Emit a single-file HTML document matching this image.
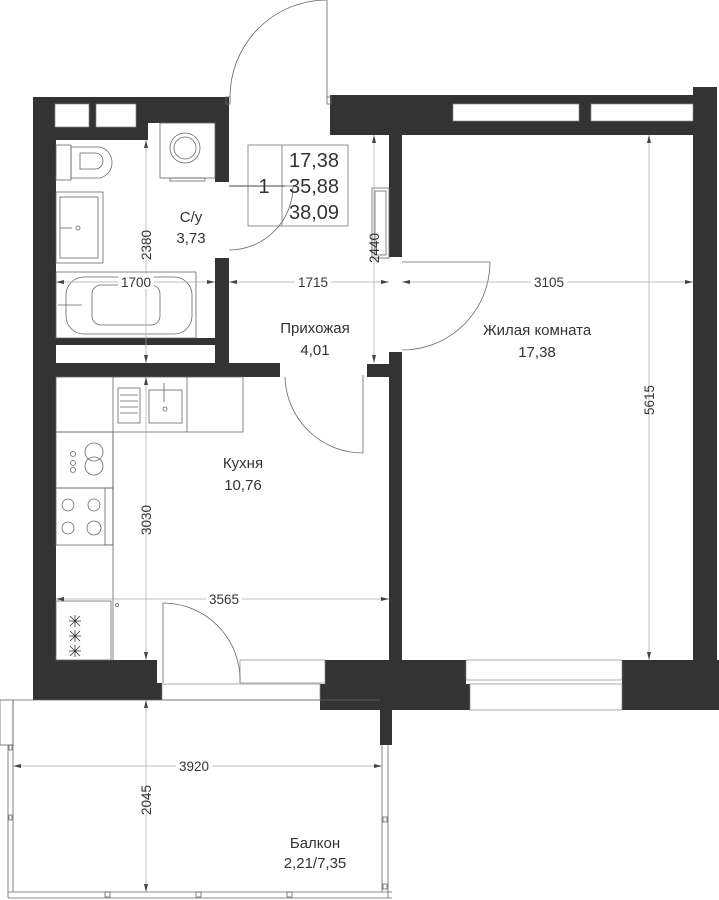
<!DOCTYPE html>
<html><head><meta charset="utf-8"><style>
html,body{margin:0;padding:0;background:#fff;}
svg{display:block;}
text{font-family:"Liberation Sans",sans-serif;fill:#333;}
</style></head><body>
<svg width="719" height="900" viewBox="0 0 719 900" xmlns="http://www.w3.org/2000/svg">
<g fill="#333">
<rect x="33" y="97" width="23" height="603"/>
<rect x="33" y="97" width="115" height="43"/>
<rect x="148" y="97" width="81" height="26"/>
<rect x="215" y="97" width="14" height="85"/>
<rect x="215" y="258" width="14" height="110"/>
<rect x="56" y="338" width="159" height="7"/>
<rect x="33" y="363" width="247" height="14"/>
<rect x="330" y="95" width="387" height="40"/>
<rect x="693" y="87" width="24" height="613"/>
<rect x="389" y="135" width="13" height="122"/>
<rect x="389" y="352" width="13" height="308"/>
<rect x="367" y="364" width="22" height="13"/>
<rect x="33" y="660" width="124" height="40"/>
<rect x="157" y="683" width="5" height="17"/>
<rect x="325" y="660" width="141" height="24"/>
<rect x="320" y="684" width="150" height="26"/>
<rect x="380" y="700" width="12" height="45"/>
<rect x="622" y="660" width="97" height="50"/>
</g>
<g fill="#fff" stroke="#888" stroke-width="0.7">
<rect x="55" y="104" width="34" height="23"/>
<rect x="96" y="104" width="40" height="23"/>
<rect x="453" y="104" width="126" height="17"/>
<rect x="591" y="104" width="102" height="17"/>
<rect x="240" y="660" width="85" height="23"/>
<rect x="466" y="660" width="156" height="20"/>
<rect x="470" y="684" width="152" height="26"/>
<rect x="162" y="684" width="158" height="16"/>
</g>
<g fill="none" stroke="#666" stroke-width="0.8">
<line x1="327" y1="0" x2="327" y2="97"/>
<path d="M327 0 A97 97 0 0 0 230 97"/>
<rect x="226" y="97" width="4" height="7"/>
<rect x="327" y="97" width="4" height="7"/>
<line x1="229" y1="186" x2="293" y2="186"/>
<path d="M293 186 A64 64 0 0 1 229 250"/>
<line x1="402" y1="262" x2="490" y2="262"/>
<path d="M490 262 A88 88 0 0 1 402 350"/>
<line x1="363" y1="375" x2="363" y2="453"/>
<path d="M285 377 A78 78 0 0 0 363 453"/>
<line x1="163" y1="603" x2="163" y2="683"/>
<path d="M163 603 A77 77 0 0 1 240 683"/>
<rect x="372" y="188" width="17" height="70"/>
<rect x="375" y="191" width="11" height="64"/>
<rect x="248" y="145" width="100" height="81" stroke="#777"/>
<line x1="282" y1="145" x2="282" y2="226" stroke="#777"/>
<line x1="229" y1="186" x2="285" y2="186" stroke="#333"/>
<rect x="56" y="145" width="15" height="35"/>
<path d="M71 147 H100 A16 16 0 0 1 100 178 H71 Z"/>
<path d="M80 153 H95 A8 8 0 0 1 95 169 H80 Z"/>
<rect x="160" y="123" width="55" height="55"/>
<circle cx="185" cy="148" r="15"/>
<circle cx="185" cy="148" r="11"/>
<rect x="170" y="178" width="35" height="3"/>
<rect x="56" y="192" width="47" height="71"/>
<rect x="60" y="197" width="38" height="61"/>
<line x1="60" y1="228" x2="72" y2="228"/>
<circle cx="78" cy="228" r="2"/>
<rect x="56" y="272" width="140" height="66"/>
<rect x="66" y="277" width="126" height="57" rx="18"/>
<rect x="92" y="285" width="68" height="40" rx="9"/>
<line x1="58" y1="305" x2="82" y2="305"/>
<rect x="56" y="377" width="187" height="55"/>
<line x1="113" y1="377" x2="113" y2="432"/>
<line x1="187" y1="377" x2="187" y2="432"/>
<rect x="118" y="388" width="22" height="35"/>
<line x1="120" y1="395" x2="138" y2="395"/>
<line x1="120" y1="401" x2="138" y2="401"/>
<line x1="120" y1="407" x2="138" y2="407"/>
<line x1="120" y1="413" x2="138" y2="413"/>
<rect x="149" y="390" width="33" height="33"/>
<line x1="164" y1="383" x2="164" y2="402"/>
<circle cx="165" cy="409" r="2"/>
<line x1="113" y1="432" x2="113" y2="660"/>
<rect x="56" y="432" width="57" height="56"/>
<circle cx="94" cy="452" r="9"/>
<circle cx="94" cy="466" r="9"/>
<circle cx="73" cy="454" r="2.5"/>
<circle cx="73" cy="463" r="2.5"/>
<circle cx="73" cy="470" r="2.5"/>
<rect x="56" y="488" width="57" height="57"/>
<rect x="105" y="488" width="8" height="57"/>
<circle cx="68" cy="505" r="6"/>
<circle cx="94" cy="505" r="6"/>
<circle cx="68" cy="528" r="6"/>
<circle cx="94" cy="528" r="7"/>
<rect x="56" y="601" width="55" height="59"/>
<circle cx="117" cy="605" r="1.5"/>
<rect x="0" y="700" width="13" height="45"/>
<line x1="8" y1="745" x2="8" y2="898"/>
<line x1="13" y1="700" x2="13" y2="892"/>
<line x1="8" y1="892" x2="392" y2="892"/>
<line x1="8" y1="898" x2="392" y2="898"/>
<line x1="13" y1="700" x2="380" y2="700"/>
<line x1="382" y1="745" x2="382" y2="892"/>
<line x1="388" y1="745" x2="388" y2="898"/>
<rect x="9" y="745" width="3" height="5"/>
<rect x="9" y="815" width="3" height="5"/>
<rect x="105" y="892" width="5" height="5"/>
<rect x="196" y="892" width="5" height="5"/>
<rect x="287" y="892" width="5" height="5"/>
<rect x="383" y="817" width="4" height="5"/>
<rect x="383" y="884" width="4" height="5"/>
</g>
<g stroke="#333" stroke-width="0.8">
<path d="M70 616 l10 10 M80 616 l-10 10 M75 615 v12 M69 621 h12"/>
<path d="M70 631 l10 10 M80 631 l-10 10 M75 630 v12 M69 636 h12"/>
<path d="M70 646 l10 10 M80 646 l-10 10 M75 645 v12 M69 651 h12"/>
</g>
<g stroke="#aaa" stroke-width="0.7" fill="none">
<line x1="146" y1="140" x2="146" y2="363"/>
<line x1="56" y1="282" x2="215" y2="282"/>
<line x1="229" y1="282" x2="389" y2="282"/>
<line x1="402" y1="282" x2="693" y2="282"/>
<line x1="374" y1="135" x2="374" y2="363"/>
<line x1="649" y1="135" x2="649" y2="660"/>
<line x1="146" y1="377" x2="146" y2="660"/>
<line x1="56" y1="599" x2="389" y2="599"/>
<line x1="13" y1="766" x2="382" y2="766"/>
<line x1="146" y1="700" x2="146" y2="892"/>
</g>
<g fill="#444">
<path d="M146 140 l-2 8 h4z M146 363 l-2 -8 h4z M56 282 l8 -2 v4z M215 282 l-8 -2 v4z M229 282 l8 -2 v4z M389 282 l-8 -2 v4z M402 282 l8 -2 v4z M693 282 l-8 -2 v4z M374 135 l-2 8 h4z M374 363 l-2 -8 h4z M649 135 l-2 8 h4z M649 660 l-2 -8 h4z M146 377 l-2 8 h4z M146 660 l-2 -8 h4z M56 599 l8 -2 v4z M389 599 l-8 -2 v4z M13 766 l8 -2 v4z M382 766 l-8 -2 v4z M146 700 l-2 8 h4z M146 892 l-2 -8 h4z"/>
</g>
<g font-size="13.5" text-anchor="middle">
<rect x="118" y="274" width="36" height="15" fill="#fff"/>
<text x="136" y="287">1700</text>
<rect x="295" y="274" width="36" height="15" fill="#fff"/>
<text x="313" y="287">1715</text>
<rect x="531" y="274" width="36" height="15" fill="#fff"/>
<text x="549" y="287">3105</text>
<rect x="206" y="591" width="36" height="15" fill="#fff"/>
<text x="224" y="604">3565</text>
<rect x="176" y="758" width="36" height="15" fill="#fff"/>
<text x="194" y="771">3920</text>
<text transform="translate(151,245) rotate(-90)">2380</text>
<text transform="translate(379,248) rotate(-90)">2440</text>
<text transform="translate(654,400) rotate(-90)">5615</text>
<text transform="translate(151,520) rotate(-90)">3030</text>
<text transform="translate(151,800) rotate(-90)">2045</text>
</g>
<g font-size="15" text-anchor="middle">
<text x="191" y="222">С/у</text>
<text x="191" y="243">3,73</text>
<text x="315" y="333">Прихожая</text>
<text x="315" y="355">4,01</text>
<text x="243" y="468">Кухня</text>
<text x="243" y="490">10,76</text>
<text x="537" y="335">Жилая комната</text>
<text x="537" y="357">17,38</text>
<text x="315" y="848">Балкон</text>
<text x="315" y="868">2,21/7,35</text>
</g>
<g font-size="20" text-anchor="middle">
<text x="264" y="193">1</text>
<text x="314" y="167">17,38</text>
<text x="314" y="193">35,88</text>
<text x="314" y="219">38,09</text>
</g>
</svg>
</body></html>
